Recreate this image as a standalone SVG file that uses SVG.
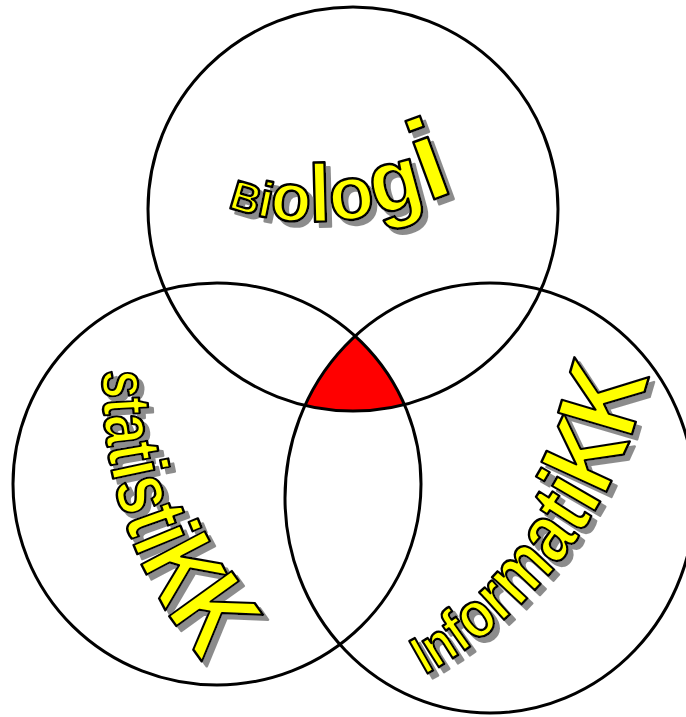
<svg xmlns="http://www.w3.org/2000/svg" width="686" height="717" viewBox="0 0 686 717">
<style>
.ring{fill:none;stroke:#000;stroke-width:3}
.word{font-family:"Liberation Sans",Arial,sans-serif;font-weight:bold;fill:#ffff00;stroke:#000;stroke-width:2.5;stroke-linejoin:round;filter:url(#sh)}
</style>
<defs>
<filter id="sh" x="-20%" y="-20%" width="140%" height="140%">
<feOffset in="SourceAlpha" dx="5" dy="5" result="o"/>
<feFlood flood-color="#8c8c8c"/>
<feComposite in2="o" operator="in" result="s"/>
<feMerge><feMergeNode in="s"/><feMergeNode in="SourceGraphic"/></feMerge>
</filter>
<clipPath id="cL"><ellipse cx="217" cy="484" rx="204" ry="201"/></clipPath>
<clipPath id="cR"><ellipse cx="490" cy="498" rx="205" ry="215"/></clipPath>
<path id="pBio" d="M228,207 Q330,245 468,186"/>
<path id="pStat" d="M103,370 A432,432 0 0,0 215,675"/>
<path id="pInf" d="M425,675 A450,450 0 0,0 655,335"/>
</defs>
<rect width="686" height="717" fill="#fff"/>
<g id="overlap" clip-path="url(#cL)"><g clip-path="url(#cR)"><ellipse cx="353" cy="209" rx="205" ry="202" fill="#ff0000"/></g></g>
<g id="circle-biologi"><ellipse class="ring" cx="353" cy="209" rx="205" ry="202"/></g>
<g id="circle-statistikk"><ellipse class="ring" cx="217" cy="484" rx="204" ry="201"/></g>
<g id="circle-informatikk"><ellipse class="ring" cx="490" cy="498" rx="205" ry="215"/></g>
<g id="label-biologi"><text class="word"><textPath href="#pBio" textLength="234" lengthAdjust="spacingAndGlyphs"><tspan font-size="42">B</tspan><tspan font-size="50">i</tspan><tspan font-size="68">o</tspan><tspan font-size="82">l</tspan><tspan font-size="76">o</tspan><tspan font-size="88">g</tspan><tspan font-size="115">i</tspan></textPath></text></g>
<g id="label-statistikk"><text class="word"><textPath href="#pStat" textLength="315" lengthAdjust="spacingAndGlyphs"><tspan font-size="66">s</tspan><tspan font-size="68">t</tspan><tspan font-size="72">a</tspan><tspan font-size="76">t</tspan><tspan font-size="80">i</tspan><tspan font-size="84">s</tspan><tspan font-size="90">t</tspan><tspan font-size="96">i</tspan><tspan font-size="104">K</tspan><tspan font-size="112">K</tspan></textPath></text></g>
<g id="label-informatikk"><text class="word"><textPath href="#pInf" textLength="385" lengthAdjust="spacingAndGlyphs"><tspan font-size="54">I</tspan><tspan font-size="58">n</tspan><tspan font-size="62">f</tspan><tspan font-size="66">o</tspan><tspan font-size="70">r</tspan><tspan font-size="76">m</tspan><tspan font-size="82">a</tspan><tspan font-size="88">t</tspan><tspan font-size="94">i</tspan><tspan font-size="104">K</tspan><tspan font-size="112">K</tspan></textPath></text></g>
</svg>
